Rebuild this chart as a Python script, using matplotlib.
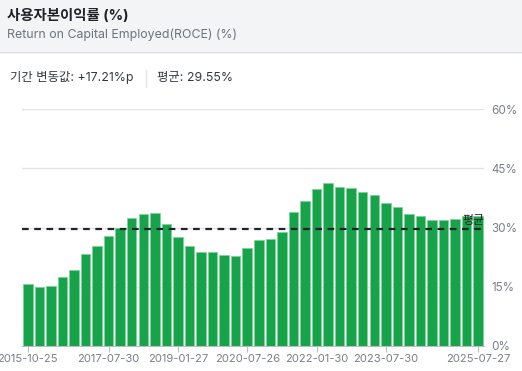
import matplotlib
matplotlib.use("Agg")
import matplotlib.pyplot as plt
from matplotlib.patches import Rectangle
from matplotlib.lines import Line2D

plt.rcParams['font.family'] = ['Inter', 'Noto Sans CJK KR', 'DejaVu Sans']

dates = [
    "2015-10-25", "2016-01-31", "2016-05-01", "2016-07-31", "2016-10-30",
    "2017-01-29", "2017-04-30", "2017-07-30", "2017-10-29", "2018-01-28",
    "2018-04-29", "2018-07-29", "2018-10-28", "2019-01-27", "2019-04-28",
    "2019-07-28", "2019-10-27", "2020-01-26", "2020-04-26", "2020-07-26",
    "2020-10-25", "2021-01-31", "2021-05-02", "2021-08-01", "2021-10-31",
    "2022-01-30", "2022-05-01", "2022-07-31", "2022-10-30", "2023-01-29",
    "2023-04-30", "2023-07-30", "2023-10-29", "2024-01-28", "2024-04-28",
    "2024-07-28", "2024-10-27", "2025-01-26", "2025-04-27", "2025-07-27",
]
roce = [
    15.6, 14.9, 15.2, 17.4, 19.3, 23.3, 25.3, 27.8, 29.9, 32.5,
    33.4, 33.6, 30.9, 27.5, 25.2, 23.7, 23.8, 23.0, 22.7, 24.7,
    26.8, 27.1, 28.9, 33.9, 36.8, 39.8, 41.3, 40.3, 40.0, 39.0,
    38.3, 36.3, 35.2, 33.3, 33.0, 32.0, 31.9, 32.2, 32.8, 32.8,
]
tick_dates = ["2015-10-25", "2017-07-30", "2019-01-27", "2020-07-26",
              "2022-01-30", "2023-07-30", "2025-07-27"]
y_ticks = [0, 15, 30, 45, 60]
y_labels = ["0%", "15%", "30%", "45%", "60%"]
average = 29.55
change = 17.21

W, H = 522, 371
fig = plt.figure(figsize=(W / 100, H / 100), dpi=100)
fig.patch.set_facecolor("white")

# header band
fig.patches.append(Rectangle((0, 1 - 51 / H), 1, 51 / H, transform=fig.transFigure,
                             facecolor="#f3f4f6", edgecolor="none", zorder=0))
fig.lines.append(Line2D([0, 1], [1 - 51.5 / H] * 2, transform=fig.transFigure,
                        color="#d9dbe0", lw=1.0))
fig.text(7 / W, 1 - 16 / H, "사용자본이익률 (%)", fontsize=10.4, fontweight="bold",
         color="#1f2328", va="center", ha="left")
fig.text(7 / W, 1 - 35 / H, "Return on Capital Employed(ROCE) (%)", fontsize=8.9,
         color="#6b7280", va="center", ha="left")

fig.text(10 / W, 1 - 78 / H, f"기간 변동값: +{change:.2f}%p", fontsize=8.9,
         color="#333842", va="center", ha="left")
fig.lines.append(Line2D([146 / W] * 2, [1 - 70 / H, 1 - 87 / H], transform=fig.transFigure,
                        color="#e2e4e8", lw=1.0))
fig.text(157 / W, 1 - 78 / H, f"평균: {average:.2f}%", fontsize=8.9,
         color="#333842", va="center", ha="left")

# axes
left, right = 22, 484
top, bottom = 109, 346
ax = fig.add_axes([left / W, 1 - bottom / H, (right - left) / W, (bottom - top) / H])
ax.set_facecolor("none")

x = list(range(len(dates)))
ax.bar(x, roce, width=0.82, color="#16a34a", edgecolor="#7fd39b", linewidth=0.6, zorder=2)

ax.set_xlim(-0.5, len(dates) - 0.5)
ax.set_ylim(0, 60)
for yv in y_ticks[1:]:
    ax.axhline(yv, color="#e3e3e3", lw=1.0, zorder=1)

ax.axhline(average, color="#1f2430", lw=1.6, ls=(0, (3, 2.5)), zorder=3)
ax.text(len(dates) - 0.5, average + 0.6, "평균", fontsize=8.6, color="#222",
        ha="right", va="bottom", zorder=4)

ax.yaxis.tick_right()
ax.set_yticks(y_ticks)
ax.set_yticklabels(y_labels)
ax.tick_params(axis="y", length=0, pad=5, labelsize=8.4, labelcolor="#7b7f8a")

tick_idx = [dates.index(d) for d in tick_dates]
ax.set_xticks(tick_idx)
ax.set_xticklabels(tick_dates)
ax.tick_params(axis="x", length=4, width=0.8, color="#b8bcc4", pad=2,
               labelsize=8.1, labelcolor="#7b7f8a")

for s in ["top", "left", "right"]:
    ax.spines[s].set_visible(False)
ax.spines["bottom"].set_color("#b8bcc4")
ax.spines["bottom"].set_linewidth(0.8)
ax.spines["bottom"].set_zorder(5)

fig.savefig("out.png", dpi=100)
